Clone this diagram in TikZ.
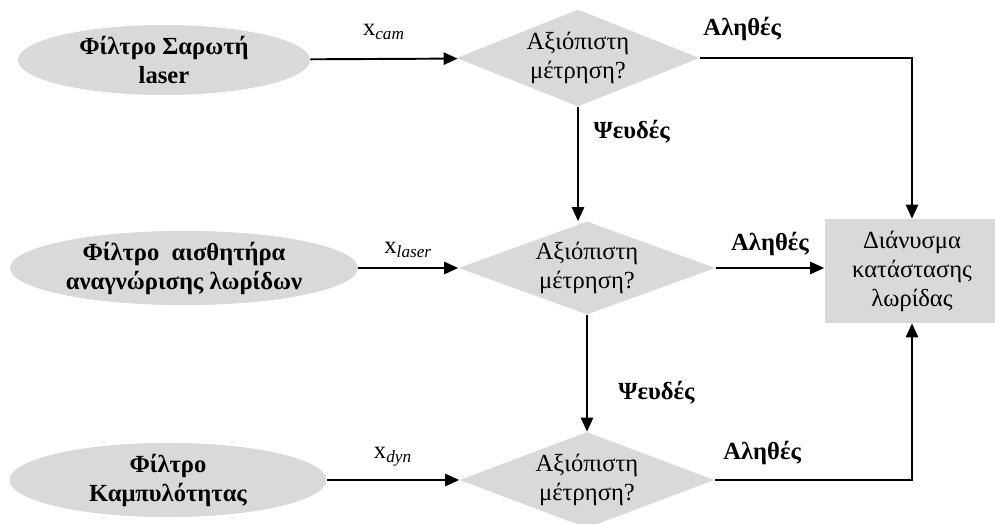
\documentclass[tikz,border=0pt]{standalone}
\usepackage{fontspec}
\setmainfont{Liberation Serif}
\usepackage{xcolor}
\usepackage{tikz}
\definecolor{filtergray}{rgb}{0.85, 0.85, 0.85}
\usetikzlibrary{shapes.geometric, arrows.meta}

\begin{document}
\begin{tikzpicture}[x=0.02cm, y=-0.02cm, font=\fontsize{14}{16.5}\selectfont,
	filter/.style={ellipse, fill=filtergray, align=center, inner sep=0pt, font=\fontsize{14}{16.5}\selectfont\bfseries},
	check/.style={diamond, shape aspect=2.6, fill=filtergray, align=center, inner sep=0pt},
	flow/.style={line width=1.1pt, -{Triangle[length=8pt, width=7pt]}},
	answer/.style={font=\fontsize{14}{16.5}\selectfont\bfseries}]
			\useasboundingbox (0,0) rectangle (995,524);
			
			\node[filter, minimum width=5.84cm, minimum height=1.4cm] (f1) at (164,60) {Φίλτρο Σαρωτή\\laser};
			\node[filter, minimum width=6.96cm, minimum height=1.42cm] (f2) at (184,268) {Φίλτρο~ αισθητήρα\\αναγνώρισης λωρίδων};
			\node[filter, minimum width=6.34cm, minimum height=1.48cm] (f3) at (168,480) {Φίλτρο\\Καμπυλότητας};
			
			\node[check, minimum width=4.86cm, minimum height=1.94cm] (c1) at (578,58) {Αξιόπιστη\\μέτρηση?};
			\node[check, minimum width=5.14cm, minimum height=1.86cm] (c2) at (587,268) {Αξιόπιστη\\μέτρηση?};
			\node[check, minimum width=5.1cm, minimum height=1.92cm] (c3) at (587,480) {Αξιόπιστη\\μέτρηση?};
			
			\node[fill=filtergray, align=center, minimum width=3.5cm, minimum height=2.08cm] (state) at (912,271) {Διάνυσμα\\κατάστασης\\λωρίδας};
			
			\draw[flow] (f1) -- node[above=7pt] (xcam) {x\textsubscript{\textit{cam}}} (c1);
			\draw[flow] (f2.east) -- node[above=2pt] (xlaser) {x\textsubscript{\textit{laser}}} (c2.west);
			\draw[flow] (f3) -- node[above=4pt] (xdyn) {x\textsubscript{\textit{dyn}}} (c3);
			
			\draw[flow] (c1.east) -| node[answer, above=6pt, pos=0.1] (t1) {Αληθές} (state.north);
			\draw[flow] (c2.east) -- node[answer, above=3pt] (t2) {Αληθές} (state.west |- c2.east);
			\draw[flow] (c3.east) -| node[answer, above=5pt, pos=0.12] (t3) {Αληθές} (state.south);
			
			\draw[flow] (c1.south) -- node[answer, right=5pt, pos=0.22] (f1no) {Ψευδές} (c1.south |- c2.north);
			\draw[flow] (c2.south) -- node[answer, right=14pt, pos=0.67] (f2no) {Ψευδές} (c3.north);
			
			\end{tikzpicture}
\end{document}
